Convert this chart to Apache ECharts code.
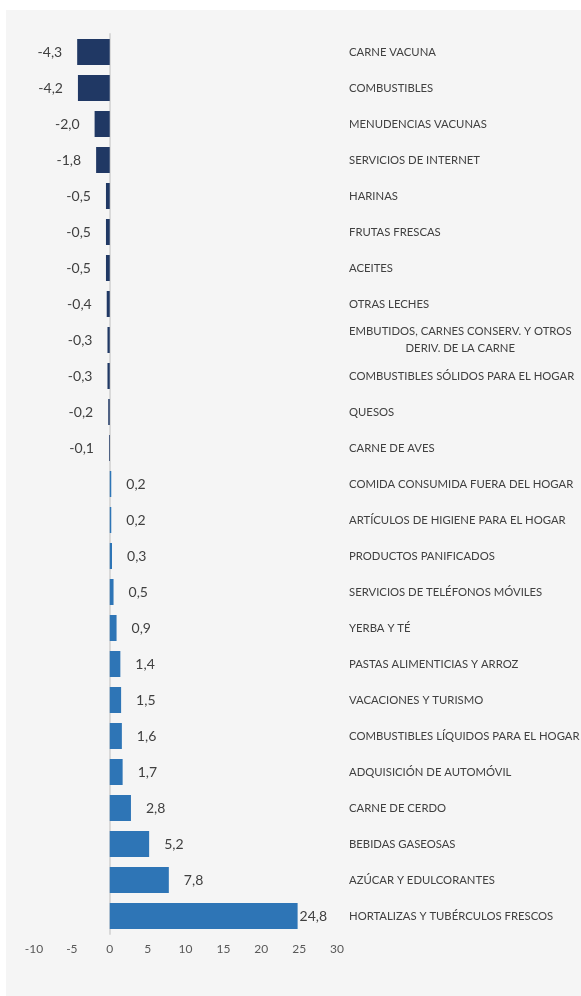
<!DOCTYPE html>
<html>
<head>
<meta charset="utf-8">
<script src="https://cdn.jsdelivr.net/npm/echarts@6/dist/echarts.min.js"></script>
<style>
  html, body { margin: 0; padding: 0; background: #ffffff; }
  #chart { position: absolute; left: 6px; top: 10px; width: 575px; height: 986px; background: #f5f5f5; }
</style>
</head>
<body>
<div id="chart"></div>
<script>
  // categorías (de arriba hacia abajo)
  const categorias = [
    'CARNE VACUNA',
    'COMBUSTIBLES',
    'MENUDENCIAS VACUNAS',
    'SERVICIOS DE INTERNET',
    'HARINAS',
    'FRUTAS FRESCAS',
    'ACEITES',
    'OTRAS LECHES',
    'EMBUTIDOS, CARNES CONSERV. Y OTROS\nDERIV. DE LA CARNE',
    'COMBUSTIBLES SÓLIDOS PARA EL HOGAR',
    'QUESOS',
    'CARNE DE AVES',
    'COMIDA CONSUMIDA FUERA DEL HOGAR',
    'ARTÍCULOS DE HIGIENE PARA EL HOGAR',
    'PRODUCTOS PANIFICADOS',
    'SERVICIOS DE TELÉFONOS MÓVILES',
    'YERBA Y TÉ',
    'PASTAS ALIMENTICIAS Y ARROZ',
    'VACACIONES Y TURISMO',
    'COMBUSTIBLES LÍQUIDOS PARA EL HOGAR',
    'ADQUISICIÓN DE AUTOMÓVIL',
    'CARNE DE CERDO',
    'BEBIDAS GASEOSAS',
    'AZÚCAR Y EDULCORANTES',
    'HORTALIZAS Y TUBÉRCULOS FRESCOS'
  ]

  // variación
  const valores = [
    -4.3, -4.2, -2.0, -1.8, -0.5, -0.5, -0.5, -0.4, -0.3, -0.3, -0.2, -0.1,
    0.2, 0.2, 0.3, 0.5, 0.9, 1.4, 1.5, 1.6, 1.7, 2.8, 5.2, 7.8, 24.8
  ]

  // eje X
  const ejeMin = -10
  const ejeMax = 30
  const ejePaso = 5

  const fuente = 'Lato, "Open Sans", sans-serif'
  const maximo = Math.max(...valores)

  const mChart = echarts.init(document.getElementById('chart'))

  const options = {
    animation: false,
    grid: {
      left: 28,
      right: 244,
      top: 24,
      bottom: 62,
      outerBoundsMode: 'none'
    },
    xAxis: {
      type: 'value',
      min: ejeMin,
      max: ejeMax,
      interval: ejePaso,
      splitLine: { show: false },
      axisLine: { show: false },
      axisTick: { show: false },
      axisLabel: {
        color: '#595959',
        fontFamily: fuente,
        fontSize: 12,
        margin: 9
      }
    },
    yAxis: [
      {
        // línea del cero
        type: 'category',
        data: categorias,
        inverse: true,
        axisLine: {
          show: true,
          onZero: true,
          lineStyle: { color: '#d9d9d9', width: 2 }
        },
        axisTick: { show: false },
        axisLabel: { show: false }
      },
      {
        // nombres a la derecha
        type: 'category',
        data: categorias,
        inverse: true,
        position: 'right',
        axisLine: { show: false, onZero: false },
        axisTick: { show: false },
        axisLabel: {
          margin: 12,
          align: 'left',
          formatter: function (v) {
            const partes = v.split('\n')
            if (partes.length === 1) return '{a|' + v + '}'
            return '{a|' + partes[0] + '}\n{b|' + partes[1] + '}'
          },
          rich: {
            a: { color: '#404040', fontFamily: fuente, fontSize: 11.3, lineHeight: 17 },
            b: { color: '#404040', fontFamily: fuente, fontSize: 11.3, lineHeight: 17, align: 'center' }
          }
        }
      }
    ],
    series: [
      {
        type: 'bar',
        barWidth: 26,
        data: valores.map((v) => ({
          value: v,
          itemStyle: { color: v < 0 ? '#203864' : '#2e75b6' },
          label: {
            position: v < 0 ? 'left' : 'right',
            distance: v === maximo ? 2 : 15
          }
        })),
        label: {
          show: true,
          color: '#404040',
          fontFamily: fuente,
          fontSize: 14,
          formatter: (p) => p.value.toFixed(1).replace('.', ',')
        }
      }
    ]
  }

  mChart.setOption(options)
</script>
</body>
</html>
